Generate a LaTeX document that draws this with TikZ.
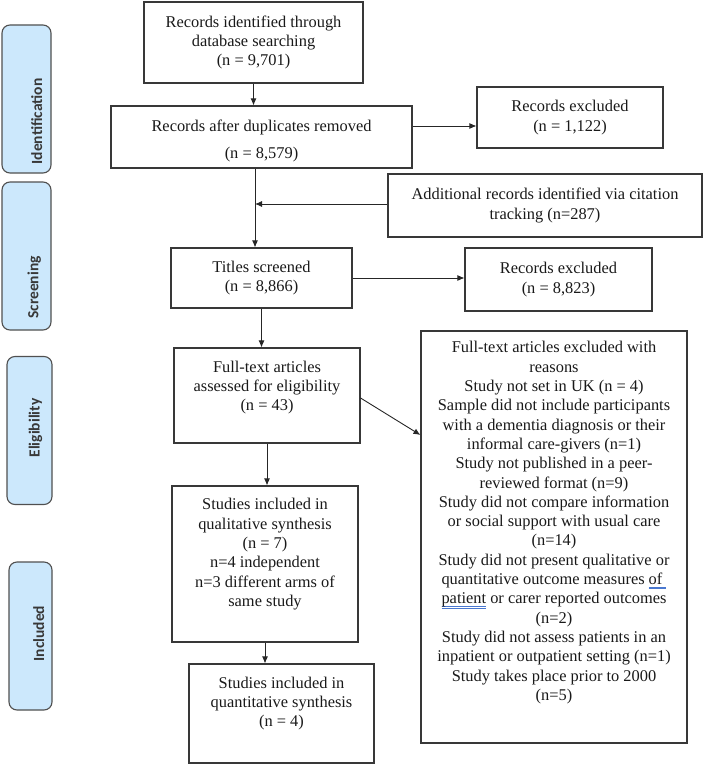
\documentclass[tikz,border=0pt]{standalone}
\usepackage{fontspec}
\setmainfont{Liberation Serif}
\newfontfamily\phasefont{Carlito}
\usetikzlibrary{arrows.meta}

\definecolor{phasefill}{HTML}{CCE8FC}
\definecolor{phaseedge}{HTML}{505050}
\definecolor{markblue}{HTML}{4A78D0}

% extra depth under the last line of a box
\newcommand{\padbottom}[1]{\rule[-#1]{0pt}{#1}}
% stage label, lowered towards the right edge of its box
\newcommand{\phaselabel}[3]{\hspace*{#2}\raisebox{-#3}[0pt][0pt]{#1}}
% word processor grammar mark
\newsavebox{\markbox}
\newcommand{\markline}[1]{\sbox{\markbox}{#1}%
  \rlap{\color{markblue}\rule[-2.8pt]{\wd\markbox}{0.5pt}}%
  \rlap{\color{markblue}\rule[-4.4pt]{\wd\markbox}{0.5pt}}%
  \usebox{\markbox}}

\begin{document}
\begin{tikzpicture}
  [x=1pt,y=-1pt,font=\fontsize{16.4}{19.3}\selectfont,
   every node/.style={draw=black!78,line width=1.1pt,align=center,text=black!90,inner sep=2pt}]
  \tikzstyle{phase} = [draw=phaseedge,fill=phasefill,rounded corners=8pt,rotate=90,
    font=\phasefont\bfseries\fontsize{15.5}{18}\selectfont,text=black!78,
    minimum width=148pt,inner sep=0pt,align=none]
  \tikzstyle{link} = [draw=black!85,line width=0.9pt,-{Latex[length=7pt,width=6pt]}]
  \useasboundingbox (0,0) rectangle (706,765);

  % stages
  \node[phase,minimum height=49pt] (ident) at (26.5,99) {\phaselabel{Identification}{0pt}{15.5pt}\hspace*{45pt}};
  \node[phase,minimum height=49pt] (screen) at (26.5,256) {\phaselabel{Screening}{0pt}{12pt}\hspace*{63pt}};
  \node[phase,minimum height=45pt] (elig) at (29.5,430.5) {\phaselabel{Eligibility}{5pt}{10pt}};
  \node[phase,minimum height=43pt] (incl) at (30.5,636) {\phaselabel{Included}{5pt}{13.5pt}};

  % boxes
  \node (search) at (253.5,42.5) [minimum width=219pt,minimum height=81pt]
    {Records identified through\\database searching\\(n = 9,701)};
  \node (dedup) at (261.5,137) [minimum width=301pt,minimum height=62pt]
    {\rule{0pt}{20pt}Records after duplicates removed\\[8pt](n = 8,579)};
  \node (excl1) at (570,117.5) [minimum width=186pt,minimum height=61pt]
    {Records excluded\\(n = 1,122)};
  \node (citation) at (545,205.5) [minimum width=314pt,minimum height=63pt]
    {Additional records identified via citation\\tracking (n=287)};
  \node (titles) at (261.5,278) [minimum width=181pt,minimum height=60pt]
    {Titles screened\\(n = 8,866)};
  \node (excl2) at (558.5,279.5) [minimum width=187pt,minimum height=63pt]
    {Records excluded\\(n = 8,823)};
  \node (fulltext) at (267,395.5) [minimum width=186pt,minimum height=95pt]
    {Full-text articles\\assessed for eligibility\\(n = 43)\padbottom{19pt}};
  \node (reasons) at (554,537) [minimum width=266pt,minimum height=412pt]
    {Full-text articles excluded with\\reasons\\Study not set in UK (n = 4)\\
     Sample did not include participants\\with a dementia diagnosis or their\\
     informal care-givers (n=1)\\Study not published in a peer-\\reviewed format (n=9)\\
     Study did not compare information\\or social support with usual care\\(n=14)\\
     Study did not present qualitative or\\quantitative outcome measures \markline{of }\\
     \markline{patient} or carer reported outcomes\\(n=2)\\
     Study did not assess patients in an\\inpatient or outpatient setting (n=1)\\
     Study takes place prior to 2000\\(n=5)\padbottom{32pt}};
  \node (quali) at (265,564) [minimum width=186pt,minimum height=156pt]
    {Studies included in\\qualitative synthesis\\(n = 7)\\n=4 independent\\
     n=3 different arms of\\same study\padbottom{23pt}};
  \node (quanti) at (281.5,713.5) [minimum width=185pt,minimum height=99pt]
    {Studies included in\\quantitative synthesis\\(n = 4)\padbottom{23pt}};

  \coordinate (spine) at ([xshift=-6.5pt]dedup.south);

\foreach \source/\dest in {search/dedup,titles/fulltext,fulltext/quali,quali/quanti}
   \draw[link] (\source.south) -- (\source.south |- \dest.north);

  \draw[link] (spine) -- (spine |- titles.north);
  \draw[link] ([yshift=11pt]dedup.east) -- ([yshift=11pt]dedup.east -| excl1.west);
  \draw[link] ([yshift=1.5pt]citation.west) -- ([yshift=1.5pt]citation.west -| spine);
  \draw[link] (titles.east) -- (titles.east -| excl2.west);
  \draw[link] ([yshift=-2.5pt]fulltext.east) -- ([yshift=102pt]reasons.west);

  \end{tikzpicture}
\end{document}
